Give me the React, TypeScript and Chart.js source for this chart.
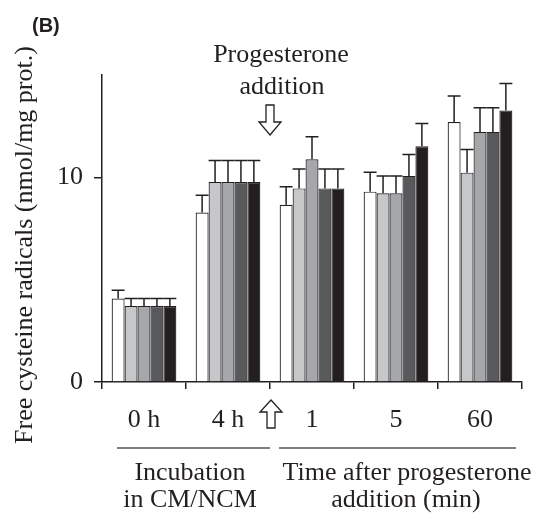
import React, { useEffect, useRef } from "react";
import { Chart, registerables } from "chart.js";

Chart.register(...registerables);

const categories = ["0 h", "4 h", "1", "5", "60"];
const seriesNames = ["S1", "S2", "S3", "S4", "S5"];
const seriesColors = ["#ffffff", "#c6c7c9", "#a6a7aa", "#58595b", "#231f20"];

const values1 = [4.08, 8.28, 8.66, 9.3, 12.7];
const values2 = [3.71, 9.77, 9.46, 9.22, 10.23];
const values3 = [3.71, 9.77, 10.88, 9.22, 12.22];
const values4 = [3.71, 9.77, 9.46, 10.07, 12.22];
const values5 = [3.71, 9.77, 9.46, 11.52, 13.27];

const errors1 = [0.4, 0.85, 0.88, 0.95, 1.27];
const errors2 = [0.37, 1.05, 0.95, 0.85, 1.13];
const errors3 = [0.37, 1.05, 1.1, 0.85, 1.18];
const errors4 = [0.37, 1.05, 0.95, 1.04, 1.18];
const errors5 = [0.37, 1.05, 0.95, 1.11, 1.32];

const yTickValues = [0, 10];

const allValues = [values1, values2, values3, values4, values5];
const allErrors = [errors1, errors2, errors3, errors4, errors5];

const INK = "#231f20";
const SERIF = '"Liberation Serif", "Times New Roman", serif';

const errorBarPlugin = {
  id: "errorBars",
  afterDatasetsDraw(chart: any) {
    const ctx = chart.ctx;
    const ys = chart.scales.y;
    ctx.save();
    ctx.strokeStyle = INK;
    ctx.lineWidth = 1.5;
    chart.data.datasets.forEach((ds: any, i: number) => {
      const meta = chart.getDatasetMeta(i);
      meta.data.forEach((el: any, j: number) => {
        const v = ds.data[j];
        const e = allErrors[i][j];
        const { x, width } = el.getProps(["x", "width"], true);
        const y0 = ys.getPixelForValue(v);
        const y1 = ys.getPixelForValue(v + e);
        ctx.beginPath();
        ctx.moveTo(x, y0);
        ctx.lineTo(x, y1);
        ctx.moveTo(x - width / 2, y1);
        ctx.lineTo(x + width / 2, y1);
        ctx.stroke();
      });
    });
    ctx.restore();
  },
};

function hollowArrow(ctx: any, cx: number, tipY: number, baseY: number, headLen: number) {
  const dir = baseY > tipY ? 1 : -1;
  const headW = 11;
  const shaftW = 4;
  const headEnd = tipY + dir * headLen;
  ctx.beginPath();
  ctx.moveTo(cx, tipY);
  ctx.lineTo(cx + headW, headEnd);
  ctx.lineTo(cx + shaftW, headEnd);
  ctx.lineTo(cx + shaftW, baseY);
  ctx.lineTo(cx - shaftW, baseY);
  ctx.lineTo(cx - shaftW, headEnd);
  ctx.lineTo(cx - headW, headEnd);
  ctx.closePath();
  ctx.fillStyle = "#ffffff";
  ctx.fill();
  ctx.stroke();
}

const annotationPlugin = {
  id: "annotations",
  afterDraw(chart: any) {
    const ctx = chart.ctx;
    const xs = chart.scales.x;
    const area = chart.chartArea;
    const bx = (xs.getPixelForTick(1) + xs.getPixelForTick(2)) / 2;
    ctx.save();
    ctx.fillStyle = INK;
    ctx.strokeStyle = INK;
    ctx.lineWidth = 1.3;

    // (B)
    ctx.font = 'bold 20px "Liberation Sans", Arial, sans-serif';
    ctx.textAlign = "left";
    ctx.textBaseline = "alphabetic";
    ctx.fillText("(B)", 32, 32);

    // top annotation
    ctx.font = `26px ${SERIF}`;
    ctx.textAlign = "center";
    ctx.fillText("Progesterone", bx + 11, 62);
    ctx.fillText("addition", bx + 12, 94);
    hollowArrow(ctx, bx, 135, 105, 13);

    // up arrow below axis
    hollowArrow(ctx, bx + 1, 400, 428, 12);

    // underlines
    ctx.lineWidth = 1.5;
    ctx.strokeStyle = "#555";
    ctx.beginPath();
    ctx.moveTo(area.left + 15, 448);
    ctx.lineTo(bx, 448);
    ctx.moveTo(bx + 9, 448);
    ctx.lineTo(area.right - 6, 448);
    ctx.stroke();

    // group labels
    ctx.fillStyle = INK;
    ctx.font = `26px ${SERIF}`;
    ctx.textAlign = "center";
    const g1 = (xs.getPixelForTick(0) + xs.getPixelForTick(1)) / 2;
    const g2 = xs.getPixelForTick(3);
    ctx.fillText("Incubation", g1 + 4, 480);
    ctx.fillText("in CM/NCM", g1 + 4, 507);
    ctx.fillText("Time after progesterone", g2 + 11, 480);
    ctx.fillText("addition (min)", g2 + 10, 507);

    // y title
    ctx.save();
    ctx.translate(25, 245);
    ctx.rotate(-Math.PI / 2);
    ctx.textBaseline = "middle";
    ctx.fillText("Free cysteine radicals (nmol/mg prot.)", 0, 0);
    ctx.restore();

    ctx.restore();
  },
};

export default function App() {
  const ref = useRef<HTMLCanvasElement | null>(null);
  useEffect(() => {
    document.body.style.margin = "0";
    if (!ref.current) return;
    const chart = new Chart(ref.current, {
      type: "bar",
      data: {
        labels: categories,
        datasets: allValues.map((vals, i) => ({
          label: seriesNames[i],
          data: vals,
          backgroundColor: seriesColors[i],
          borderColor: INK,
          borderWidth: 1.2,
          borderSkipped: "bottom",
          categoryPercentage: 0.77,
          barPercentage: 1.0,
        })),
      },
      options: {
        responsive: false,
        animation: false,
        events: [],
        layout: { padding: { top: 75, right: 18, left: 0, bottom: 0 } },
        plugins: {
          legend: { display: false },
          tooltip: { enabled: false },
          title: { display: false },
        },
        scales: {
          x: {
            grid: {
              display: true,
              drawOnChartArea: false,
              drawTicks: true,
              tickLength: 7,
              color: INK,
              lineWidth: 1.5,
              offset: true,
            },
            border: { display: true, color: INK, width: 1.5 },
            ticks: {
              color: INK,
              font: { family: SERIF, size: 26 },
              padding: 16,
              maxRotation: 0,
              autoSkip: false,
            },
            afterFit: (s: any) => {
              s.height = 146;
            },
          },
          y: {
            min: 0,
            max: 15,
            afterBuildTicks: (s: any) => {
              s.ticks = yTickValues.map((v) => ({ value: v }));
            },
            grid: {
              display: true,
              drawOnChartArea: false,
              drawTicks: true,
              tickLength: 8,
              color: INK,
              lineWidth: 1.5,
            },
            border: { display: true, color: INK, width: 1.5 },
            ticks: {
              color: INK,
              font: { family: SERIF, size: 26 },
              padding: 11,
            },
            afterFit: (s: any) => {
              s.width = 102;
            },
          },
        },
      },
      plugins: [errorBarPlugin, annotationPlugin],
    });
    return () => chart.destroy();
  }, []);
  return (
    <div style={{ width: 540, height: 528, background: "#fff" }}>
      <canvas ref={ref} width={540} height={528} style={{ display: "block" }} />
    </div>
  );
}
